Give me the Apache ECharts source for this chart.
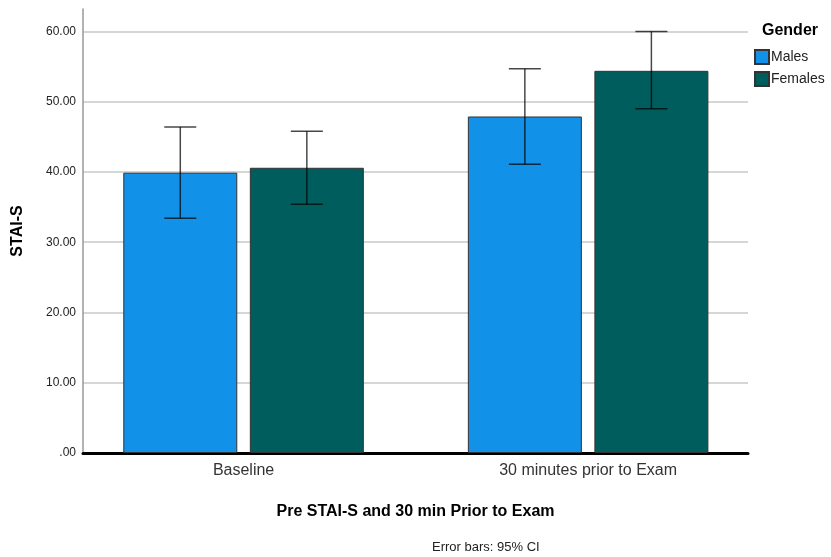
<!DOCTYPE html>
<html>
<head>
<meta charset="utf-8">
<script src="https://cdn.jsdelivr.net/npm/echarts@6/dist/echarts.min.js"></script>
<style>
  html, body { margin: 0; padding: 0; background: #fff; }
  #main { width: 831px; height: 557px; }
</style>
</head>
<body>
<div id="main"></div>
<script>
// data
var categories = ['Baseline', '30 minutes prior to Exam'];
var males = [39.9, 47.9];
var females = [40.6, 54.4];
var malesLow = [33.4, 41.1];
var malesHigh = [46.4, 54.7];
var femalesLow = [35.4, 49.0];
var femalesHigh = [45.8, 60.0];

var barW = 114;
var gapPct = '11%';

function barData(vals) {
    return vals.map(function (v, i) { return [i, v]; });
}

function errorSeries(name, low, high, idx) {
    return {
        name: name,
        type: 'custom',
        z: 5,
        data: categories.map(function (c, i) { return [i, low[i], high[i]]; }),
        renderItem: function (params, api) {
            var i = api.value(0);
            var lo = api.coord([i, api.value(1)]);
            var hi = api.coord([i, api.value(2)]);
            var gap = barW * 0.11;
            var total = barW * 2 + gap;
            var x = lo[0] - total / 2 + barW / 2 + idx * (barW + gap);
            var hw = 16;
            var st = { stroke: 'rgba(0,0,0,0.72)', lineWidth: 1.5 };
            return {
                type: 'group',
                children: [
                    { type: 'line', shape: { x1: x, y1: hi[1], x2: x, y2: lo[1] }, style: st },
                    { type: 'line', shape: { x1: x - hw, y1: hi[1], x2: x + hw, y2: hi[1] }, style: st },
                    { type: 'line', shape: { x1: x - hw, y1: lo[1], x2: x + hw, y2: lo[1] }, style: st }
                ]
            };
        }
    };
}

var myChart = echarts.init(document.getElementById('main'));

var option = {
    animation: false,
    textStyle: { fontFamily: 'Liberation Sans, Arial, sans-serif' },
    title: [{
        text: 'Gender',
        left: 757,
        top: 18,
        textStyle: { fontSize: 16, fontWeight: 'bold', color: '#000' }
    }],
    legend: {
        data: ['Males', 'Females'],
        orient: 'vertical',
        left: 749,
        top: 44,
        itemWidth: 14,
        itemHeight: 14,
        itemGap: 6,
        icon: 'rect',
        textStyle: { fontSize: 14, lineHeight: 14, color: '#222', padding: [0, 0, 0, -3] }
    },
    grid: { left: 83, right: 83, top: 9, bottom: 104 },
    xAxis: {
        type: 'value',
        min: -0.466,
        max: 1.464,
        name: 'Pre STAI-S and 30 min Prior to Exam',
        nameLocation: 'middle',
        nameGap: 51,
        nameTextStyle: { fontSize: 16, fontWeight: 'bold', color: '#000' },
        axisLine: { show: true, lineStyle: { color: '#000', width: 3 } },
        axisTick: { show: false },
        splitLine: { show: false },
        axisLabel: {
            fontSize: 16,
            color: '#333',
            margin: 10,
            customValues: [0, 1],
            formatter: function (v) { return categories[Math.round(v)] || ''; }
        }
    },
    yAxis: {
        type: 'value',
        min: 0,
        max: 63.2,
        interval: 10,
        name: 'STAI-S',
        nameLocation: 'middle',
        nameGap: 57,
        nameRotate: 90,
        nameTextStyle: { fontSize: 16, fontWeight: 'bold', color: '#000' },
        axisLine: { show: true, onZero: false, lineStyle: { color: '#999', width: 1.5 } },
        axisTick: { show: false },
        axisLabel: {
            fontSize: 12,
            color: '#222',
            margin: 7,
            showMaxLabel: false,
            formatter: function (v) {
                if (v % 10 !== 0) return '';
                return v === 0 ? '.00' : v.toFixed(2);
            }
        },
        splitLine: { show: true, showMaxLine: false, lineStyle: { color: '#c8c8c8', width: 1.5 } }
    },
    graphic: [{
        type: 'text',
        left: 432,
        top: 541,
        style: { text: 'Error bars: 95% CI', fontSize: 13, fill: '#222', fontFamily: 'Liberation Sans, Arial, sans-serif' }
    }],
    series: [
        {
            name: 'Males',
            type: 'bar',
            data: barData(males),
            barWidth: barW,
            barGap: gapPct,
            itemStyle: { color: '#1192e8', borderColor: '#333', borderWidth: 1 }
        },
        {
            name: 'Females',
            type: 'bar',
            data: barData(females),
            barWidth: barW,
            barGap: gapPct,
            itemStyle: { color: '#005d5d', borderColor: '#333', borderWidth: 1 }
        },
        errorSeries('MalesErr', malesLow, malesHigh, 0),
        errorSeries('FemalesErr', femalesLow, femalesHigh, 1)
    ]
};

myChart.setOption(option);
</script>
</body>
</html>
